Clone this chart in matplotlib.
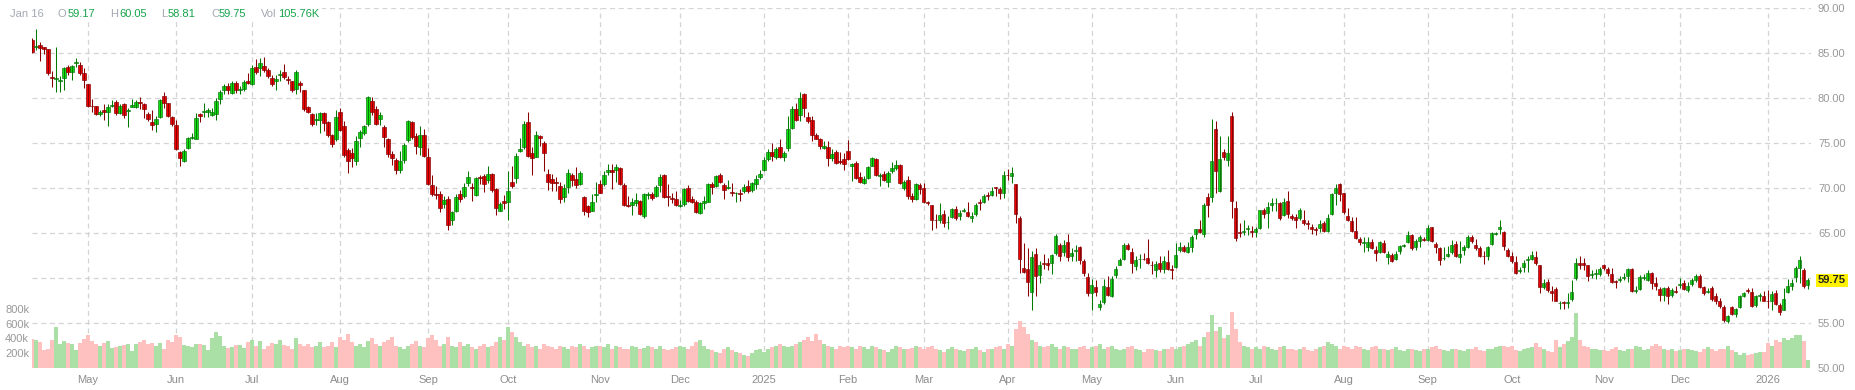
import numpy as np
import pandas as pd
import matplotlib
matplotlib.use("Agg")
import matplotlib.pyplot as plt
import matplotlib.transforms as mtransforms
from matplotlib.patches import Rectangle

plt.rcParams["font.family"] = ["Liberation Sans", "DejaVu Sans"]

# trading days (the feed keeps a bar for 2025-01-09)
holidays = ["2024-05-27", "2024-06-19", "2024-07-04", "2024-09-02", "2024-11-28",
            "2024-12-25", "2025-01-01", "2025-01-20", "2025-02-17", "2025-04-18",
            "2025-05-26", "2025-06-19", "2025-07-04", "2025-09-01", "2025-11-27",
            "2025-12-25", "2026-01-01"]
dates = pd.bdate_range("2024-04-11", "2026-01-16", freq="C", holidays=holidays)

opens = [
    86.4, 85.7, 85.9, 85.7, 85.4, 82.3, 82.1, 81.9, 82.2, 83.4,
    82.9, 83.9, 83.7, 82.8, 81.5, 79.15, 79.1, 78.2, 78.7, 78.4,
    79.1, 79.6, 78.3, 79.3, 78.6, 79.0, 79.0, 79.6, 79.3, 78.2,
    77.3, 77.1, 77.9, 80.2, 79.4, 77.9, 77.0, 74.0, 73.0, 74.4,
    75.6, 75.5, 78.2, 78.4, 78.5, 78.1, 78.2, 79.9, 80.9, 81.3,
    80.6, 81.7, 80.9, 81.0, 81.9, 81.6, 83.4, 83.3, 83.5, 83.1,
    82.2, 81.9, 82.6, 82.9, 82.1, 81.9, 81.0, 81.7, 80.9, 79.0,
    78.2, 77.6, 77.6, 78.3, 77.3, 75.9, 75.4, 78.5, 76.9, 74.2,
    73.9, 73.0, 75.6, 76.1, 77.1, 79.7, 78.8, 77.7, 76.8, 75.4,
    73.8, 73.1, 72.0, 73.1, 75.3, 77.3, 75.8, 74.6, 75.9, 73.5,
    70.3, 69.3, 69.3, 68.2, 68.8, 66.4, 67.5, 69.3, 69.1, 70.6,
    70.1, 69.2, 71.2, 71.3, 70.9, 71.6, 69.9, 67.5, 68.6, 68.5,
    70.7, 71.1, 74.1, 74.6, 77.3, 73.9, 73.5, 75.8, 75.0, 71.6,
    71.0, 70.7, 70.2, 69.0, 70.1, 71.4, 71.0, 70.4, 69.0, 68.0,
    67.5, 69.2, 70.5, 70.4, 71.8, 72.0, 72.0, 72.2, 70.3, 68.1,
    68.1, 68.3, 68.6, 66.9, 69.2, 69.3, 69.1, 70.3, 71.4, 69.1,
    68.9, 68.8, 68.0, 68.2, 70.0, 68.8, 68.4, 67.2, 68.3, 68.5,
    70.4, 70.2, 71.4, 70.3, 70.0, 69.6, 69.4, 69.4, 69.7, 70.2,
    69.8, 70.5, 71.2, 72.0, 73.2, 74.0, 73.5, 74.6, 73.4, 74.4,
    76.7, 78.8, 78.1, 80.4, 77.9, 77.6, 75.9, 75.4, 74.4, 74.6,
    73.3, 74.0, 73.0, 73.2, 74.1, 72.4, 72.8, 71.2, 70.6, 71.1,
    72.5, 73.2, 71.3, 71.6, 70.7, 71.9, 72.2, 72.6, 70.0, 70.9,
    69.1, 68.8, 70.3, 70.0, 68.5, 68.1, 66.45, 66.4, 67.1, 66.2,
    66.8, 67.7, 66.9, 67.5, 67.3, 66.7, 67.1, 68.4, 68.4, 69.2,
    69.2, 70.05, 69.9, 69.5, 71.45, 71.3, 70.4, 66.7, 61.1, 61.0,
    58.4, 62.7, 60.3, 61.7, 61.7, 61.7, 62.8, 63.7, 62.9, 64.0,
    62.5, 63.0, 63.4, 61.9, 60.1, 58.3, 59.0, 56.8, 57.3, 59.0,
    58.0, 60.3, 61.5, 62.1, 63.7, 62.9, 61.3, 62.1, 62.15, 62.2,
    61.45, 60.9, 61.7, 61.0, 61.8, 61.0, 61.2, 63.1, 63.4, 62.9,
    63.4, 64.9, 65.4, 64.9, 69.0, 69.0, 76.6, 69.7, 74.0, 73.1,
    78.0, 67.8, 65.1, 65.1, 65.4, 65.2, 65.1, 65.6, 67.5, 67.2,
    68.1, 68.3, 68.3, 67.0, 68.6, 66.9, 66.8, 66.7, 66.4, 66.1,
    65.7, 65.4, 65.6, 66.1, 65.2, 67.1, 69.4, 70.4, 69.4, 66.9,
    66.3, 65.2, 64.3, 63.9, 63.5, 64.0, 63.1, 62.9, 63.9, 62.3,
    62.6, 62.1, 63.0, 63.6, 64.0, 64.8, 63.4, 64.1, 64.3, 64.2,
    65.7, 63.8, 63.3, 62.2, 62.5, 62.9, 63.8, 62.3, 63.1, 63.4,
    64.6, 63.7, 63.3, 62.5, 62.4, 63.8, 64.9, 65.4, 65.1, 63.1,
    62.4, 61.8, 60.8, 61.2, 62.0, 62.1, 62.3, 61.4, 59.0, 59.6,
    58.6, 58.8, 57.2, 57.3, 57.2, 57.7, 60.0, 61.7, 61.7, 61.4,
    60.3, 60.5, 60.5, 61.4, 61.0, 60.4, 59.7, 59.8, 60.0, 60.2,
    61.0, 58.6, 58.8, 60.0, 59.8, 60.6, 59.4, 58.8, 58.1, 58.9,
    58.1, 58.6, 59.2, 59.5, 58.7, 59.3, 59.8, 60.2, 59.0, 58.5,
    58.9, 58.0, 57.5, 56.8, 55.2, 56.8, 56.0, 56.8, 58.0, 58.7,
    58.4, 57.0, 58.0, 58.0, 57.45, 57.5, 58.3, 57.0, 56.5, 58.5,
    59.1, 60.1, 61.1, 60.9, 59.17,
]
highs = [
    86.7, 87.7, 86.2, 85.7, 85.4, 83.0, 85.7, 82.4, 83.5, 83.7,
    83.7, 84.4, 84.0, 83.3, 81.6, 79.9, 79.1, 78.7, 79.3, 79.3,
    79.8, 79.8, 79.3, 79.4, 78.9, 79.9, 79.8, 80.1, 79.4, 78.4,
    78.7, 78.0, 79.9, 80.7, 79.4, 78.0, 77.6, 74.1, 74.3, 75.7,
    76.1, 78.3, 78.3, 79.4, 78.9, 78.9, 80.0, 80.9, 81.6, 81.7,
    81.9, 81.9, 81.3, 82.0, 82.8, 83.7, 84.3, 84.4, 84.6, 83.3,
    82.6, 82.6, 83.1, 83.8, 82.5, 81.9, 83.1, 81.9, 80.9, 79.1,
    78.3, 78.3, 78.4, 78.5, 77.4, 76.0, 78.7, 78.9, 77.4, 74.4,
    74.4, 75.8, 76.5, 77.0, 80.2, 80.1, 79.1, 78.5, 77.0, 75.6,
    74.1, 73.3, 74.1, 75.0, 77.6, 77.5, 76.1, 76.9, 76.6, 74.4,
    71.5, 70.2, 69.7, 69.1, 69.1, 67.5, 69.3, 69.8, 70.6, 71.9,
    70.6, 71.2, 71.5, 71.6, 72.5, 71.7, 70.0, 68.5, 69.2, 71.9,
    72.5, 73.9, 75.6, 77.4, 78.4, 74.6, 76.3, 75.9, 75.2, 72.1,
    71.6, 71.2, 70.7, 70.4, 72.1, 71.7, 72.3, 71.9, 69.1, 68.1,
    69.3, 70.7, 70.9, 71.9, 72.7, 72.7, 72.7, 72.3, 70.6, 69.1,
    68.9, 69.4, 68.7, 69.4, 69.6, 69.6, 70.3, 71.6, 71.6, 70.4,
    69.4, 69.7, 68.7, 70.0, 70.3, 69.1, 68.7, 68.4, 69.1, 70.6,
    70.7, 71.5, 71.7, 70.6, 70.9, 70.6, 69.6, 69.9, 70.4, 70.9,
    70.7, 71.4, 72.0, 73.5, 74.3, 75.0, 74.6, 75.4, 74.1, 78.0,
    79.1, 79.4, 80.7, 80.6, 78.5, 78.0, 76.1, 75.6, 75.2, 75.2,
    74.3, 74.2, 74.0, 73.9, 75.3, 72.8, 73.0, 71.8, 71.3, 72.5,
    73.4, 73.3, 71.7, 71.9, 71.9, 72.9, 73.1, 72.7, 70.9, 71.3,
    69.4, 70.6, 70.6, 70.6, 68.6, 68.1, 67.1, 68.3, 67.6, 66.9,
    67.8, 68.0, 67.6, 67.8, 68.4, 67.3, 68.3, 68.8, 69.3, 69.6,
    70.1, 70.1, 70.1, 71.9, 72.1, 72.3, 70.5, 66.9, 63.9, 63.3,
    63.0, 63.3, 61.9, 62.7, 62.2, 62.7, 64.9, 63.9, 64.2, 64.9,
    63.3, 63.7, 63.6, 62.1, 60.6, 59.9, 59.8, 57.6, 59.9, 60.2,
    60.2, 61.3, 62.2, 63.9, 63.9, 63.3, 62.4, 62.7, 62.8, 64.3,
    61.9, 61.9, 62.4, 62.4, 63.1, 61.5, 63.9, 64.0, 63.7, 64.0,
    64.8, 65.5, 66.4, 68.3, 69.4, 77.7, 77.5, 75.8, 74.3, 75.8,
    78.4, 68.6, 66.1, 66.5, 65.9, 65.8, 65.7, 67.6, 67.8, 68.4,
    68.9, 68.9, 68.5, 68.9, 69.7, 67.1, 67.1, 67.8, 67.6, 66.5,
    66.0, 65.7, 66.5, 66.3, 67.1, 69.4, 70.5, 70.6, 69.5, 67.8,
    66.8, 66.8, 64.6, 64.6, 64.6, 64.3, 63.6, 64.1, 64.2, 63.0,
    62.8, 63.0, 63.7, 63.8, 65.2, 64.9, 64.3, 64.8, 64.6, 65.9,
    65.7, 64.0, 63.5, 63.5, 63.6, 64.2, 64.1, 64.1, 63.7, 64.8,
    64.8, 64.3, 63.6, 63.0, 63.6, 65.1, 65.1, 66.5, 65.2, 63.3,
    62.9, 62.5, 61.2, 62.0, 62.4, 63.0, 63.0, 61.5, 59.9, 59.9,
    59.1, 59.0, 57.4, 57.5, 58.3, 59.8, 62.2, 62.5, 62.2, 61.5,
    60.9, 61.0, 61.2, 61.6, 61.2, 61.1, 59.8, 60.2, 60.6, 61.1,
    61.1, 59.1, 60.3, 60.4, 60.9, 60.7, 60.1, 59.0, 59.0, 59.1,
    58.9, 59.1, 60.0, 59.8, 59.6, 60.0, 60.5, 60.5, 59.1, 58.9,
    59.1, 58.3, 57.8, 57.0, 55.9, 56.9, 56.7, 58.1, 58.5, 58.9,
    58.9, 58.1, 58.3, 58.6, 58.7, 58.6, 58.7, 57.2, 58.9, 59.9,
    59.9, 61.3, 62.4, 61.1, 60.05,
]
lows = [
    85.0, 85.3, 84.1, 84.9, 82.6, 81.2, 80.7, 80.7, 80.9, 82.6,
    82.0, 83.5, 82.6, 81.1, 79.0, 78.5, 78.1, 78.0, 77.6, 76.9,
    79.0, 78.1, 78.2, 77.8, 76.8, 79.0, 78.9, 78.8, 77.8, 77.4,
    76.5, 76.2, 77.8, 78.9, 77.9, 76.9, 74.2, 72.5, 72.9, 74.3,
    75.4, 75.4, 77.3, 77.9, 77.9, 78.0, 77.6, 79.3, 80.5, 80.4,
    80.4, 80.6, 80.4, 80.8, 81.6, 81.5, 82.7, 82.5, 82.9, 82.2,
    81.3, 80.9, 81.9, 82.1, 81.6, 80.7, 80.5, 80.7, 78.6, 78.3,
    76.9, 77.0, 76.1, 76.3, 75.7, 74.6, 75.2, 76.3, 73.5, 71.7,
    72.3, 72.6, 74.6, 75.9, 76.9, 78.1, 77.0, 77.0, 74.6, 73.5,
    72.6, 71.6, 71.7, 72.8, 75.1, 75.5, 73.8, 73.7, 73.5, 70.3,
    69.1, 68.8, 67.3, 67.8, 65.3, 65.9, 67.3, 68.5, 68.9, 70.2,
    68.6, 69.1, 70.4, 69.6, 70.6, 69.6, 67.0, 67.4, 67.7, 66.4,
    70.0, 70.6, 74.0, 74.3, 73.5, 71.5, 73.4, 74.7, 71.9, 69.8,
    69.7, 69.7, 68.3, 68.5, 69.5, 70.2, 70.0, 70.3, 67.0, 66.8,
    67.4, 68.4, 69.4, 70.2, 71.4, 69.9, 70.7, 70.3, 68.0, 67.9,
    67.0, 68.0, 67.0, 66.7, 68.8, 68.7, 69.0, 69.6, 68.9, 68.0,
    68.3, 68.0, 67.9, 68.0, 68.5, 68.3, 67.2, 67.1, 67.7, 68.4,
    69.3, 70.1, 70.6, 68.8, 69.9, 69.1, 68.5, 68.6, 69.5, 69.4,
    69.6, 69.9, 71.0, 71.9, 73.0, 73.0, 73.2, 73.3, 73.0, 74.1,
    76.6, 77.4, 77.4, 77.9, 77.2, 75.2, 75.4, 74.3, 74.3, 72.4,
    73.0, 72.7, 72.7, 72.0, 73.1, 70.8, 71.0, 70.6, 70.5, 71.0,
    72.4, 71.3, 70.2, 70.8, 70.1, 71.7, 72.0, 70.5, 69.8, 68.8,
    68.4, 68.7, 69.3, 68.3, 68.1, 65.3, 65.6, 66.1, 65.7, 65.4,
    66.7, 66.5, 66.5, 67.3, 66.8, 66.2, 66.9, 67.6, 68.3, 68.7,
    69.1, 69.1, 68.8, 68.9, 70.9, 70.6, 66.1, 60.6, 60.6, 58.0,
    56.5, 58.0, 59.5, 61.0, 60.9, 60.5, 62.6, 61.9, 62.4, 61.9,
    61.9, 61.9, 61.6, 60.2, 58.0, 56.5, 58.0, 56.5, 57.1, 58.0,
    57.9, 60.0, 61.4, 62.0, 63.1, 60.6, 60.9, 61.1, 62.0, 61.6,
    60.4, 60.1, 60.7, 60.6, 60.9, 59.9, 61.1, 62.9, 62.9, 62.8,
    62.9, 64.3, 65.0, 64.6, 66.8, 68.5, 69.4, 69.6, 73.1, 72.4,
    66.7, 64.1, 64.6, 64.8, 64.8, 64.6, 64.6, 65.5, 66.7, 65.6,
    67.5, 67.5, 66.5, 66.9, 66.7, 66.5, 65.6, 66.5, 65.9, 65.4,
    64.9, 64.8, 65.1, 65.1, 65.1, 67.0, 68.1, 68.6, 67.1, 66.3,
    65.1, 64.3, 63.7, 62.9, 63.0, 63.2, 61.9, 62.8, 62.8, 61.6,
    61.8, 62.0, 62.7, 63.5, 63.9, 63.1, 63.1, 63.4, 64.1, 64.1,
    64.0, 62.8, 61.5, 62.0, 62.3, 62.7, 62.3, 61.7, 62.6, 63.3,
    63.9, 63.1, 62.3, 61.6, 62.0, 63.7, 64.8, 64.9, 63.1, 62.3,
    61.7, 60.5, 60.6, 60.7, 60.7, 62.0, 61.5, 58.3, 58.8, 58.5,
    57.5, 57.4, 56.6, 56.6, 56.7, 57.5, 59.8, 61.0, 60.9, 59.7,
    60.0, 59.9, 60.2, 60.9, 60.2, 59.5, 58.9, 59.6, 59.8, 59.6,
    58.4, 58.3, 58.7, 59.8, 59.7, 58.8, 58.7, 57.4, 57.5, 57.1,
    57.9, 58.3, 58.9, 58.7, 58.5, 59.1, 59.6, 58.9, 58.1, 58.3,
    57.5, 57.1, 56.7, 55.1, 55.0, 55.9, 55.7, 56.7, 57.9, 58.3,
    56.8, 56.8, 57.4, 57.4, 56.7, 56.5, 57.0, 55.9, 56.4, 58.3,
    58.7, 59.6, 59.4, 58.9, 58.81,
]
closes = [
    85.1, 85.8, 85.6, 85.4, 82.8, 82.2, 82.2, 82.0, 83.3, 82.9,
    83.6, 84.0, 82.8, 82.0, 79.1, 79.1, 78.2, 78.4, 78.4, 79.0,
    79.2, 78.3, 79.1, 78.1, 78.7, 79.2, 79.6, 79.4, 78.8, 77.7,
    77.0, 77.7, 79.8, 79.4, 78.0, 77.1, 74.3, 73.3, 74.1, 75.6,
    75.7, 77.8, 78.0, 78.6, 78.7, 78.4, 79.7, 80.7, 81.3, 80.9,
    81.7, 80.9, 81.0, 81.8, 81.7, 83.3, 82.9, 83.9, 83.1, 82.4,
    81.6, 82.1, 82.7, 82.3, 82.0, 80.9, 82.9, 81.4, 78.8, 78.5,
    77.1, 77.7, 78.3, 77.2, 75.9, 74.9, 77.9, 76.4, 73.7, 73.0,
    73.3, 75.2, 76.2, 76.9, 80.1, 78.4, 77.1, 78.1, 75.7, 73.8,
    73.3, 72.0, 73.0, 74.8, 77.5, 75.7, 74.7, 75.9, 73.6, 70.4,
    69.3, 69.2, 67.8, 68.7, 65.9, 67.3, 69.0, 68.8, 70.1, 71.2,
    70.0, 71.1, 71.1, 70.5, 71.6, 69.8, 67.8, 68.2, 68.3, 69.7,
    70.2, 73.6, 74.3, 77.1, 73.6, 73.3, 75.9, 75.6, 73.9, 70.7,
    70.6, 70.6, 68.8, 70.0, 71.7, 70.9, 70.3, 71.7, 67.4, 67.3,
    68.5, 69.3, 69.5, 71.5, 72.0, 71.8, 72.3, 70.4, 68.1, 68.0,
    68.4, 68.7, 67.1, 69.3, 69.3, 68.9, 70.1, 71.2, 69.0, 69.0,
    68.8, 68.1, 68.1, 69.9, 68.6, 68.4, 67.3, 68.3, 68.6, 70.4,
    70.1, 71.3, 70.7, 69.8, 70.1, 69.4, 69.5, 69.3, 70.1, 69.7,
    70.6, 71.0, 71.6, 73.1, 74.0, 73.6, 74.3, 73.4, 73.9, 76.6,
    78.8, 77.6, 80.0, 78.9, 77.5, 75.9, 75.5, 74.7, 74.7, 73.3,
    73.8, 72.8, 72.9, 72.7, 73.2, 72.7, 71.1, 70.7, 71.0, 72.3,
    73.3, 71.4, 71.4, 70.9, 71.7, 72.2, 72.5, 70.6, 70.7, 69.1,
    68.8, 70.4, 69.9, 68.4, 68.3, 66.4, 66.4, 67.0, 66.1, 66.25,
    67.7, 66.7, 67.2, 67.55, 66.9, 66.9, 68.1, 68.3, 69.1, 69.1,
    69.7, 70.0, 69.4, 71.5, 71.4, 71.7, 67.1, 62.1, 60.7, 59.6,
    62.3, 60.2, 61.5, 61.6, 61.5, 62.5, 64.7, 62.5, 63.7, 62.3,
    62.8, 63.05, 62.0, 60.6, 58.3, 59.2, 58.4, 57.1, 59.1, 58.1,
    59.9, 61.0, 62.0, 63.7, 63.2, 61.7, 62.0, 62.15, 62.1, 61.7,
    61.4, 61.6, 61.0, 61.9, 61.0, 60.9, 62.5, 63.4, 63.0, 63.4,
    64.6, 65.4, 65.1, 68.1, 68.1, 73.0, 71.9, 73.2, 73.5, 73.9,
    68.6, 64.4, 65.0, 65.2, 65.6, 65.1, 65.4, 67.5, 67.1, 67.9,
    68.3, 68.35, 66.7, 68.4, 67.1, 66.7, 66.4, 67.6, 66.1, 66.0,
    65.4, 65.3, 66.0, 65.2, 66.7, 69.3, 70.0, 69.3, 67.3, 66.4,
    65.2, 64.4, 64.0, 63.95, 64.0, 63.3, 62.8, 64.0, 62.9, 62.7,
    61.9, 62.7, 63.6, 63.7, 64.8, 63.3, 64.1, 64.6, 64.2, 65.6,
    64.1, 63.5, 62.0, 62.25, 62.7, 63.7, 62.4, 62.7, 63.4, 64.6,
    64.1, 63.3, 62.5, 62.4, 63.4, 65.0, 65.0, 65.7, 63.6, 62.5,
    61.9, 60.6, 60.9, 61.7, 62.05, 62.5, 61.7, 59.0, 59.4, 58.7,
    58.3, 57.5, 57.25, 57.2, 57.3, 58.4, 61.7, 61.5, 61.4, 60.2,
    60.4, 60.6, 61.0, 61.1, 60.6, 59.6, 59.6, 59.85, 60.1, 61.0,
    58.6, 58.7, 60.1, 60.05, 60.6, 59.4, 59.1, 58.1, 58.9, 58.0,
    58.7, 58.5, 59.3, 58.8, 59.1, 59.8, 60.2, 59.0, 58.3, 58.55,
    57.7, 57.5, 56.9, 55.3, 55.8, 56.0, 56.6, 58.0, 58.3, 58.6,
    56.9, 58.0, 58.05, 57.5, 57.4, 58.2, 57.1, 56.2, 57.7, 59.15,
    59.4, 61.1, 62.0, 59.1, 59.75,
]

# volume in thousands, one row per month
volumes = [
    386, 373, 351, 244, 253, 373, 560, 320, 360, 333, 320, 240, 333, 395,
    440, 360, 320, 293, 333, 360, 266, 280, 293, 306, 320, 226, 320, 351, 373, 320, 333, 293, 333, 253, 373, 351,
    440, 413, 306, 293, 280, 320, 320, 306, 240, 400, 480, 426, 293, 266, 280, 306, 306, 266, 346,
    373, 293, 360, 253, 293, 333, 320, 373, 306, 293, 253, 400, 330, 300, 320, 280, 300, 350, 280, 300, 350, 280,
    420, 380, 460, 350, 300, 320, 280, 360, 400, 330, 300, 350, 380, 420, 300, 280, 260, 300, 330, 360, 300, 280,
    400, 450, 380, 300, 320, 420, 300, 280, 350, 300, 320, 280, 260, 300, 330, 280, 300, 350, 420, 380,
    560, 480, 420, 350, 300, 330, 280, 300, 260, 320, 300, 280, 250, 300, 280, 260, 300, 280, 320, 300, 260, 280, 300,
    300, 280, 320, 260, 300, 280, 250, 260, 300, 280, 250, 270, 300, 280, 260, 300, 250, 240, 260, 280,
    300, 280, 260, 300, 350, 380, 300, 260, 240, 220, 200, 260, 280, 240, 220, 200, 180, 160, 200, 240, 260,
    220, 250, 280, 300, 320, 300, 280, 300, 320, 350, 380, 420, 360, 460, 380, 320, 300, 280, 260, 300, 280,
    300, 280, 260, 300, 280, 250, 300, 280, 260, 240, 220, 250, 300, 280, 260, 250, 270, 300, 280,
    250, 280, 300, 260, 240, 220, 250, 280, 260, 240, 230, 250, 260, 280, 240, 220, 250, 260, 280, 300, 260,
    320, 300, 520, 640, 560, 460, 380, 350, 300, 280, 300, 320, 280, 260, 300, 280, 260, 250, 280, 300, 260,
    280, 300, 320, 260, 280, 300, 250, 240, 260, 280, 300, 260, 240, 220, 250, 260, 240, 230, 250, 260, 280,
    260, 280, 300, 320, 350, 380, 300, 420, 480, 720, 500, 560, 400, 450, 760, 520, 350, 300, 280, 260,
    280, 250, 300, 280, 260, 240, 280, 300, 260, 250, 240, 260, 280, 240, 230, 250, 280, 300, 350, 320, 300, 260,
    300, 280, 260, 300, 280, 260, 240, 280, 300, 260, 250, 240, 260, 280, 240, 230, 250, 260, 240, 230, 250,
    260, 280, 300, 260, 240, 230, 250, 260, 240, 230, 250, 260, 280, 240, 230, 250, 260, 280, 301, 292, 279,
    301, 243, 234, 256, 270, 279, 337, 279, 256, 234, 211, 378, 279, 324, 369, 420, 740, 380, 300, 280, 260, 250, 240,
    240, 230, 260, 280, 240, 230, 250, 260, 300, 280, 240, 260, 300, 320, 300, 260, 240, 250, 230,
    240, 260, 250, 240, 230, 220, 250, 280, 260, 230, 250, 260, 300, 240, 220, 180, 200, 170, 190, 200, 220, 210,
    340, 300, 380, 350, 400, 380, 400, 440, 440, 360, 106,
]

price_ticks = [50, 55, 60, 65, 70, 75, 80, 85, 90]
vol_ticks = [200, 400, 600, 800]
vol_labels = ["200k", "400k", "600k", "800k"]

o = np.array(opens)
h = np.array(highs)
l = np.array(lows)
c = np.array(closes)
v = np.array(volumes)
x = np.arange(len(dates))
up = c >= o

W, H = 1856, 390
fig = plt.figure(figsize=(W / 100, H / 100), dpi=100)
rect = [32 / W, 22 / H, 1779 / W, 360 / H]

# base axes: grid + price/date labels
ax = fig.add_axes(rect)
ax.set_zorder(0)
ax.set_xlim(0, len(x) - 0.2)
ax.set_ylim(50, 90)
month_pos = [i for i in range(1, len(dates)) if dates[i].month != dates[i - 1].month]
month_lbl = [str(dates[i].year) if dates[i].month == 1 else dates[i].strftime("%b") for i in month_pos]
ax.set_xticks(month_pos)
ax.set_xticklabels(month_lbl)
ax.grid(True, color="#d4d4d4", linestyle=(0, (4, 3)), linewidth=0.9)
for s in ax.spines.values():
    s.set_visible(False)

# volume (left labels)
axv = ax.twinx()
axv.set_zorder(1)
axv.patch.set_visible(False)
axv.bar(x, v, width=1.0, color=np.where(up, "#aadfa6", "#ffc0c0"), linewidth=0)
axv.set_ylim(0, 4860)
axv.yaxis.tick_left()
axv.set_yticks(vol_ticks)
axv.set_yticklabels(vol_labels)
axv.tick_params(axis="y", length=0, pad=2, labelsize=8, labelcolor="#999999")
for s in axv.spines.values():
    s.set_visible(False)

# price labels on the right (after twinx, which moves them)
ax.yaxis.tick_right()
ax.set_yticks(price_ticks)
ax.set_yticklabels(["" if t == 60 else f"{t:.2f}" for t in price_ticks])
ax.tick_params(axis="y", length=0, pad=5, labelsize=8, labelcolor="#999999")
ax.tick_params(axis="x", length=0, pad=5, labelsize=8, labelcolor="#8c8c8c")

# candles on top
axc = fig.add_axes(rect, sharex=ax, sharey=ax)
axc.set_zorder(2)
axc.patch.set_visible(False)
axc.axis("off")
axc.vlines(x, l, h, colors=np.where(up, "#007a00", "#8a0000"), linewidth=0.75)
axc.bar(x, np.maximum(np.abs(c - o), 0.06), bottom=np.minimum(o, c), width=0.8,
        color=np.where(up, "#12e012", "#f00000"),
        edgecolor=np.where(up, "#0a6a0a", "#7a0000"), linewidth=0.45)

# last price tag
tr = mtransforms.blended_transform_factory(ax.transAxes, ax.transData)
axc.text(1.0 + 7 / 1779, closes[-1], f"{closes[-1]:.2f}", transform=tr, ha="left", va="center",
         fontsize=8, fontweight="bold", color="#222222", clip_on=False,
         bbox=dict(boxstyle="square,pad=0.15", fc="#fff200", ec="none"))

# header
fig.add_artist(Rectangle((0, 1 - 19 / H), 322 / W, 19 / H, transform=fig.transFigure,
                         facecolor="white", edgecolor="none", zorder=10))
hy = 1 - 14 / H
grey, green = "#a3a8b2", "#16a34a"
header = [(10, "Jan 16", grey), (58, "O", grey), (68, "59.17", green),
          (110, "H", grey), (119, "60.05", green), (161, "L", grey), (168, "58.81", green),
          (211, "C", grey), (219, "59.75", green), (261, "Vol", grey), (278, "105.76K", green)]
for px, txt, col in header:
    fig.text(px / W, hy, txt, color=col, fontsize=8, va="center", ha="left", zorder=11)

fig.savefig("out.png", dpi=100)
